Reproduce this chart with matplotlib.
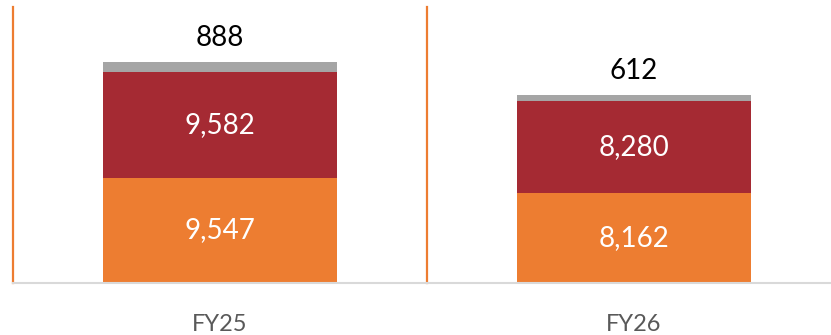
import numpy as np
import matplotlib.pyplot as plt

categories = ["FY25", "FY26"]
bottom_vals = [9547, 8162]
middle_vals = [9582, 8280]
top_vals = [888, 612]

plt.rcParams['font.family'] = ['Lato', 'DejaVu Sans']

fig = plt.figure(figsize=(8.31, 3.35), dpi=100)
ax = fig.add_axes([13 / 831, 1 - 283 / 335, 828 / 831, 276 / 335])

x = np.arange(len(categories))
width = 0.563
bottom_vals = np.array(bottom_vals)
middle_vals = np.array(middle_vals)
top_vals = np.array(top_vals)

ax.bar(x, bottom_vals, width, color='#ED7D31')
ax.bar(x, middle_vals, width, bottom=bottom_vals, color='#A52A33')
ax.bar(x, top_vals, width, bottom=bottom_vals + middle_vals, color='#A5A5A5')

for i in range(len(categories)):
    ax.text(x[i], bottom_vals[i] / 2, f"{bottom_vals[i]:,}", ha='center', va='center',
            color='white', fontsize=20)
    ax.text(x[i], bottom_vals[i] + middle_vals[i] / 2, f"{middle_vals[i]:,}", ha='center',
            va='center', color='white', fontsize=20)
    ax.annotate(f"{top_vals[i]:,}", xy=(x[i], bottom_vals[i] + middle_vals[i] + top_vals[i]),
                xytext=(0, 8), textcoords='offset points', ha='center', va='bottom',
                color='black', fontsize=20)

ax.set_xlim(-0.5, 1.5)
ax.set_ylim(0, 25000)

# category separators
for xs in [-0.5, 0.5]:
    ax.axvline(xs, color='#ED7D31', lw=1.6, zorder=0, clip_on=False)

for s in ['top', 'right', 'left']:
    ax.spines[s].set_visible(False)
ax.spines['bottom'].set_color('#D9D9D9')
ax.spines['bottom'].set_linewidth(1.5)

ax.set_yticks([])
ax.set_xticks(x)
ax.set_xticklabels(categories, fontsize=17, color='#595959')
ax.tick_params(axis='x', length=0, pad=22)

fig.savefig('out.png', dpi=100)
